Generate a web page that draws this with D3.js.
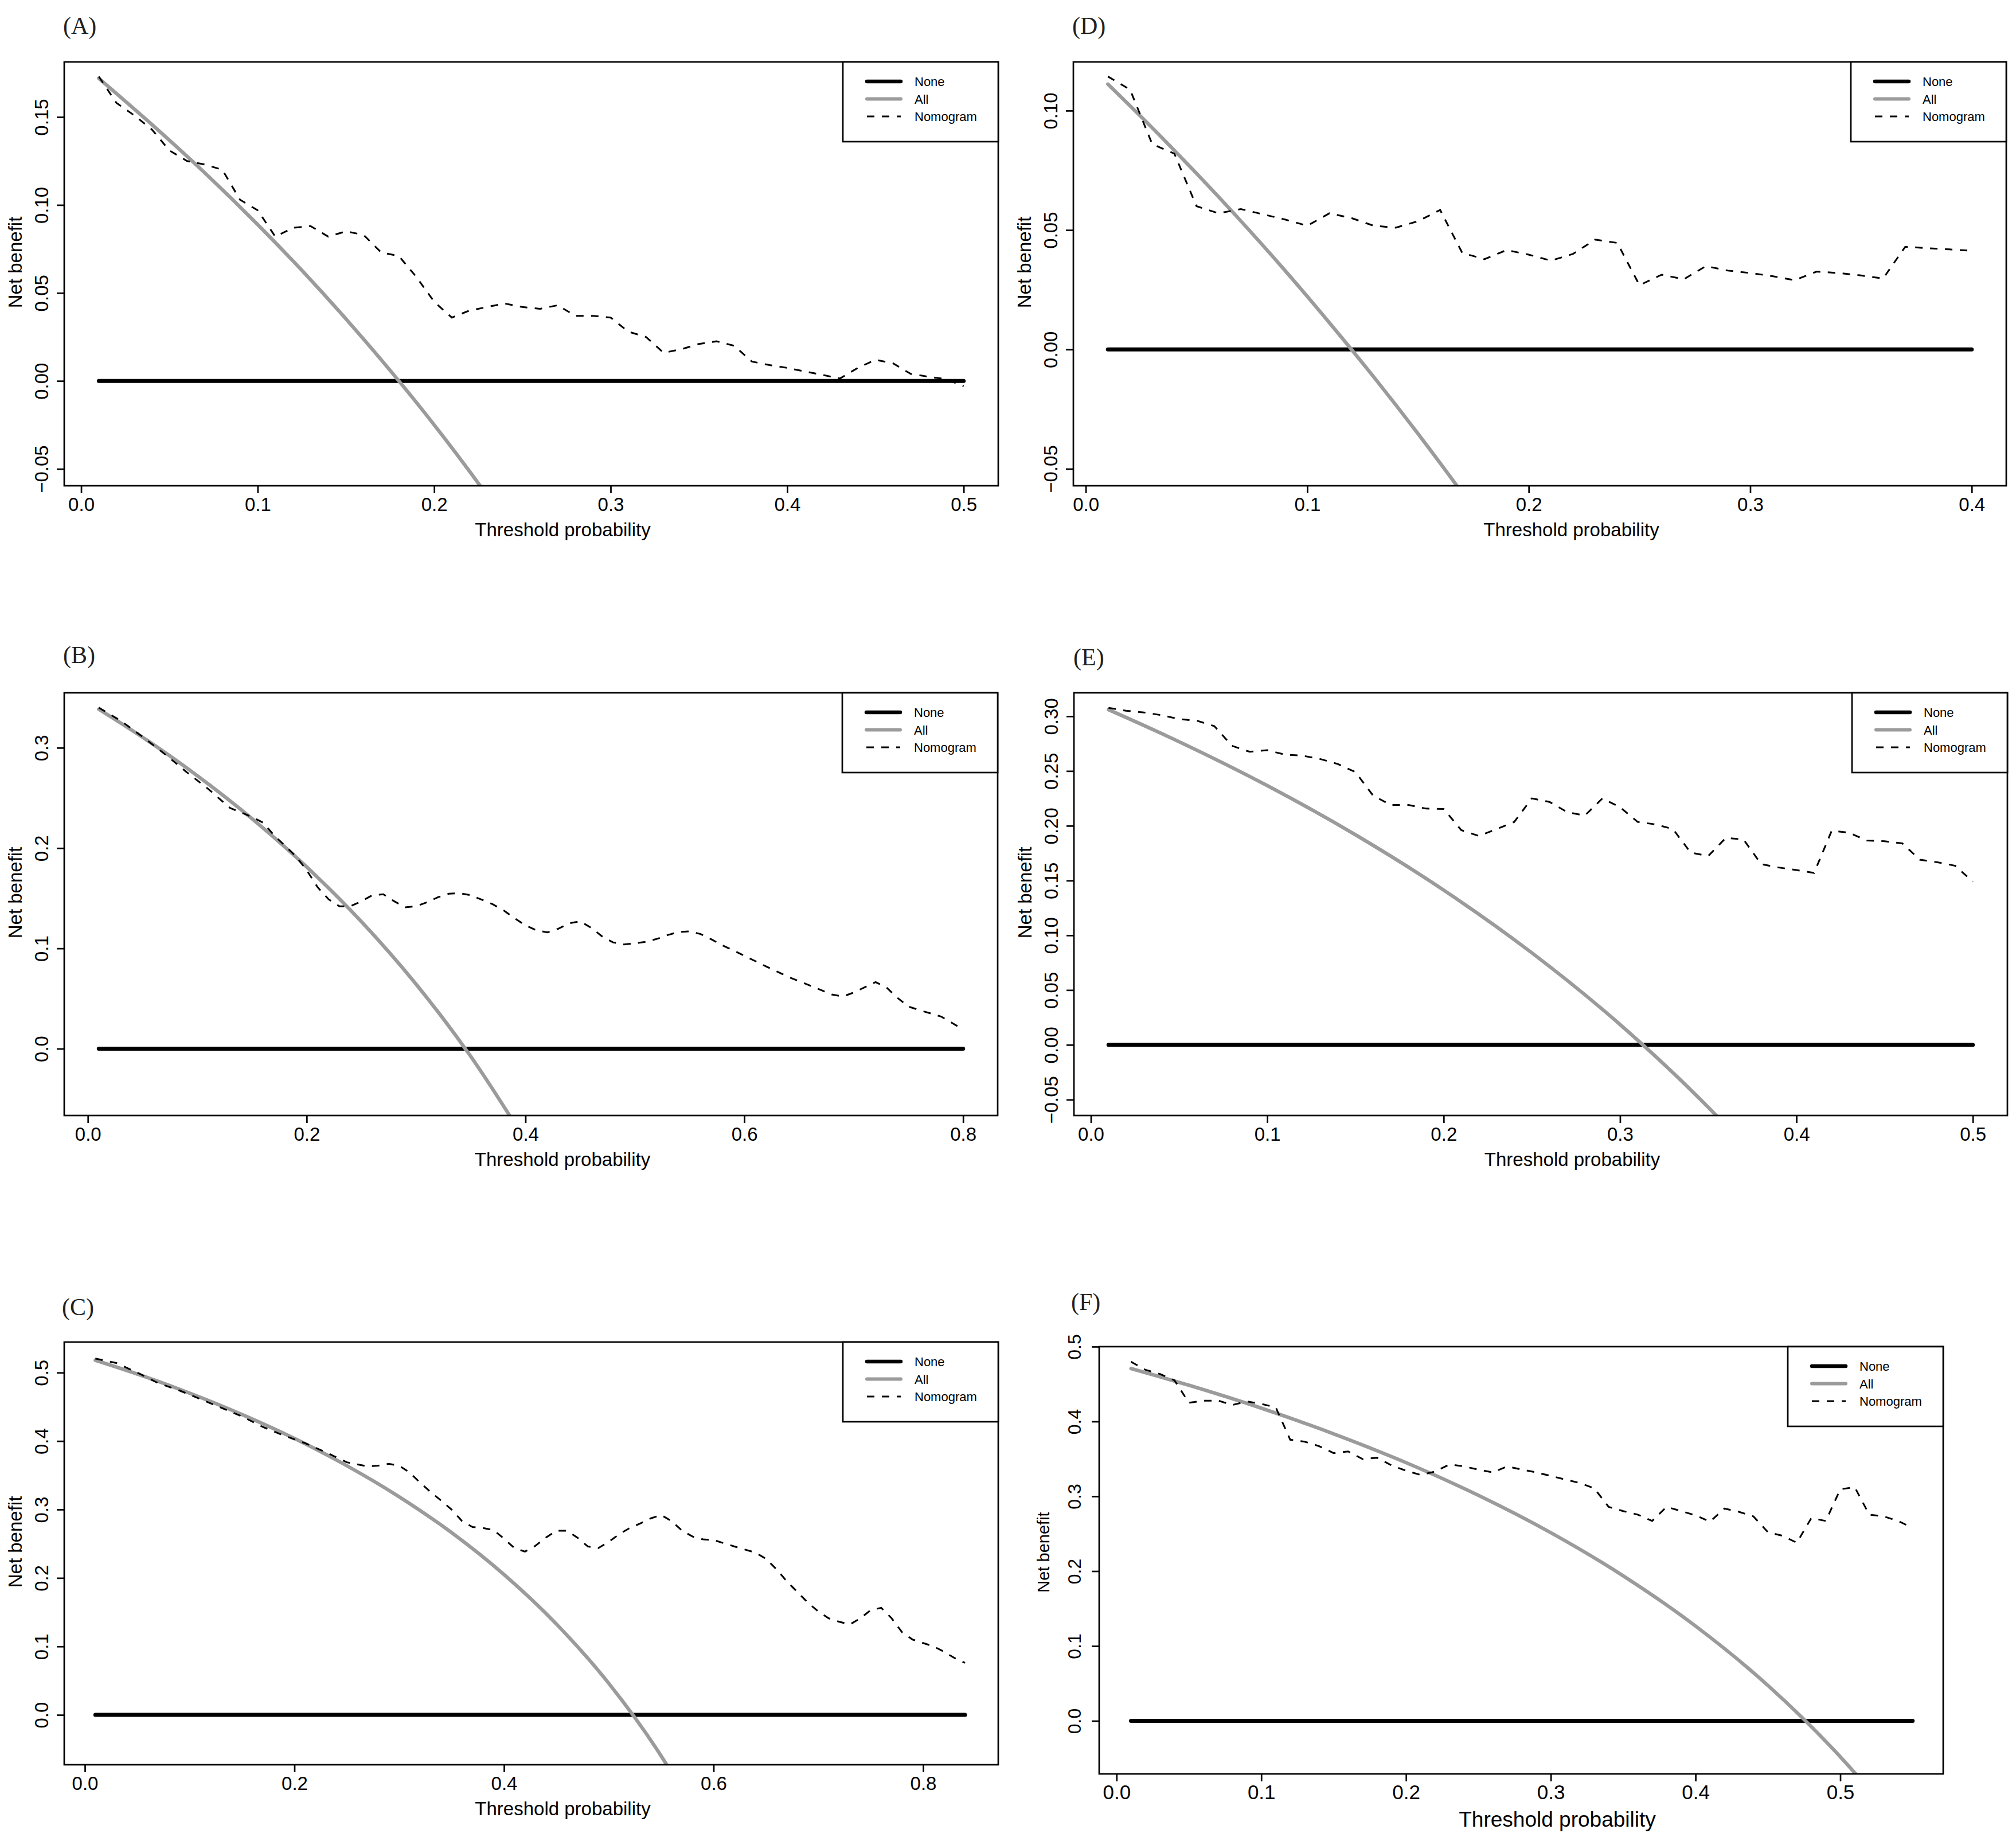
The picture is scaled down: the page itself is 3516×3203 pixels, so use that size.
<!DOCTYPE html>
<html>
<head>
<meta charset="utf-8">
<style>
  body { margin: 0; background: #fff; }
  svg text { font-family: "Liberation Sans", Arial, Helvetica, sans-serif; fill: #000; }
  svg .tag { font-family: "Liberation Serif", "Times New Roman", serif; fill: #231f20; }
</style>
</head>
<body>
<svg id="dca"></svg>
<script src="https://d3js.org/d3.v7.min.js"></script>
<script>
// values (net benefit by threshold probability)

// (A)
var xA = [0.01,0.02,0.03,0.04,0.05,0.06,0.07,0.08,0.09,0.10,0.11,0.12,0.13,0.14,0.15,0.16,0.17,0.18,0.19,0.20,
          0.21,0.22,0.23,0.24,0.25,0.26,0.27,0.28,0.29,0.30,0.31,0.32,0.33,0.34,0.35,0.36,0.37,0.38,0.39,0.40,
          0.41,0.42,0.43,0.44,0.45,0.46,0.47,0.48,0.49,0.50];
var nomA = [0.173,0.158,0.151,0.143,0.131,0.125,0.123,0.120,0.103,0.097,0.082,0.087,0.088,0.082,0.085,0.083,0.073,0.071,0.059,0.045,
            0.036,0.040,0.042,0.044,0.042,0.041,0.043,0.037,0.037,0.036,0.028,0.025,0.016,0.018,0.021,0.0225,0.020,0.011,0.009,0.0074,
            0.0054,0.0034,0.0014,0.0074,0.012,0.010,0.004,0.0024,0.001,-0.003];
var allXA = [0.01,0.04,0.07,0.10,0.13,0.16,0.19,0.22,0.25];
var allA = [0.172,0.1458,0.1183,0.0889,0.0575,0.0238,-0.0123,-0.0513,-0.0933];

// (D)
var xD = [0.01,0.02,0.03,0.04,0.05,0.06,0.07,0.08,0.09,0.10,0.11,0.12,0.13,0.14,0.15,0.16,0.17,0.18,0.19,0.20,
          0.21,0.22,0.23,0.24,0.25,0.26,0.27,0.28,0.29,0.30,0.31,0.32,0.33,0.34,0.35,0.36,0.37,0.38,0.39,0.40];
var nomD = [0.1143,0.1088,0.086,0.082,0.060,0.057,0.0588,0.0566,0.0544,0.0518,0.057,0.055,0.0518,0.051,0.0537,0.0584,0.0404,0.0378,0.0416,0.0397,
            0.0372,0.040,0.046,0.0446,0.0269,0.0313,0.0294,0.0349,0.033,0.032,0.0307,0.029,0.0326,0.032,0.031,0.0297,0.043,0.0424,0.0419,0.0413];
var allXD = [0.01,0.03,0.05,0.07,0.09,0.11,0.13,0.15,0.17,0.19];
var allD = [0.1111,0.0928,0.0737,0.0538,0.033,0.0112,-0.0115,-0.0353,-0.0602,-0.0864];

// (B)
var xB = [0.01,0.03,0.05,0.07,0.09,0.11,0.13,0.15,0.16,0.17,0.19,0.20,0.21,0.22,0.23,0.24,0.25,0.26,0.27,0.28,
          0.29,0.30,0.31,0.32,0.33,0.34,0.35,0.36,0.37,0.38,0.39,0.40,0.41,0.42,0.43,0.44,0.45,0.46,0.47,0.48,
          0.49,0.50,0.51,0.52,0.53,0.54,0.55,0.56,0.57,0.58,0.59,0.60,0.62,0.64,0.66,0.68,0.69,0.70,0.72,0.73,
          0.74,0.75,0.76,0.78,0.80];
var nomB = [0.340,0.327,0.311,0.294,0.276,0.259,0.240,0.231,0.2255,0.213,0.192,0.178,0.161,0.149,0.142,0.142,0.147,0.153,0.154,0.147,
            0.141,0.142,0.146,0.151,0.1545,0.155,0.153,0.1486,0.144,0.138,0.130,0.123,0.118,0.116,0.1196,0.125,0.127,0.1206,0.112,0.106,
            0.104,0.105,0.1066,0.1094,0.1133,0.1164,0.117,0.1143,0.109,0.103,0.098,0.0927,0.082,0.0717,0.063,0.054,0.052,0.056,0.0664,0.061,
            0.0507,0.042,0.0385,0.032,0.0192];
var allXB = [0.01,0.05,0.10,0.15,0.20,0.25,0.30,0.35,0.40];
var allB = [0.3384,0.3105,0.2722,0.2294,0.1812,0.1267,0.0643,-0.0077,-0.0917];

// (E)
var xE = xA.slice();
var nomE = [0.3077,0.305,0.3035,0.301,0.2974,0.296,0.291,0.273,0.2676,0.269,0.265,0.264,0.261,0.2564,0.249,0.2276,0.219,0.219,0.2157,0.2154,
            0.196,0.1907,0.197,0.2035,0.225,0.2218,0.2125,0.2093,0.225,0.217,0.2035,0.2013,0.197,0.1756,0.1724,0.189,0.1875,0.165,0.1619,0.1596,
            0.157,0.1955,0.1936,0.1865,0.1859,0.184,0.169,0.1667,0.1635,0.149];
var allXE = [0.01,0.05,0.10,0.15,0.20,0.25,0.30,0.35,0.40];
var allE = [0.306,0.2768,0.2367,0.1918,0.1413,0.084,0.0186,-0.057,-0.145];

// (C)
var xC = [0.01,0.03,0.05,0.07,0.09,0.11,0.13,0.15,0.17,0.19,0.21,0.23,0.25,0.27,0.28,0.29,0.30,0.31,0.32,0.33,
          0.34,0.35,0.36,0.37,0.38,0.39,0.40,0.41,0.42,0.43,0.44,0.45,0.46,0.47,0.48,0.49,0.50,0.51,0.52,0.53,
          0.54,0.55,0.56,0.57,0.58,0.59,0.60,0.62,0.64,0.65,0.66,0.67,0.68,0.69,0.70,0.71,0.72,0.73,0.74,0.75,
          0.76,0.77,0.78,0.79,0.80,0.81,0.82,0.83,0.84];
var nomC = [0.5205,0.514,0.500,0.4846,0.474,0.4615,0.4487,0.436,0.4205,0.408,0.397,0.3836,0.369,0.363,0.364,0.3667,0.364,0.354,0.339,0.3256,
            0.313,0.300,0.283,0.2744,0.273,0.270,0.2574,0.2436,0.2385,0.247,0.259,0.269,0.269,0.259,0.246,0.2436,0.2528,0.264,0.273,0.2795,
            0.287,0.292,0.283,0.269,0.2605,0.2564,0.2554,0.246,0.237,0.228,0.2128,0.195,0.1795,0.164,0.151,0.141,0.136,0.132,0.141,0.153,
            0.1564,0.141,0.1205,0.110,0.105,0.100,0.0923,0.083,0.076];
var allXC = [0.01,0.05,0.10,0.15,0.20,0.25,0.30,0.35,0.40,0.45,0.50,0.55,0.60];
var allC = [0.518,0.4979,0.470,0.4388,0.4038,0.364,0.3186,0.2662,0.205,0.1327,0.046,-0.060,-0.1925];

// (F)
var xF = [0.01,0.02,0.03,0.04,0.05,0.06,0.07,0.08,0.09,0.10,0.11,0.12,0.13,0.14,0.15,0.16,0.17,0.18,0.19,0.20,
          0.21,0.22,0.23,0.24,0.25,0.26,0.27,0.28,0.29,0.30,0.31,0.32,0.33,0.34,0.35,0.36,0.37,0.38,0.39,0.40,
          0.41,0.42,0.43,0.44,0.45,0.46,0.47,0.48,0.49,0.50,0.51,0.52,0.53,0.54,0.55];
var nomF = [0.4798,0.469,0.4634,0.455,0.425,0.4277,0.428,0.422,0.4268,0.4235,0.4188,0.3756,0.373,0.367,0.3577,0.36,0.3498,0.3516,0.3413,0.3343,
            0.3286,0.333,0.3427,0.340,0.3357,0.332,0.340,0.3357,0.332,0.3272,0.3225,0.3178,0.3108,0.2859,0.2803,0.2756,0.2671,0.2859,0.2803,0.2746,
            0.2662,0.2836,0.2793,0.2732,0.2521,0.2474,0.238,0.2709,0.2671,0.3094,0.3122,0.2756,0.2732,0.2671,0.2577];
var allXF = [0.01,0.05,0.10,0.15,0.20,0.25,0.30,0.35,0.40,0.45,0.50,0.52,0.55];
var allF = [0.4707,0.4484,0.4178,0.3835,0.345,0.3013,0.2514,0.1938,0.1267,0.0473,-0.048,-0.0917,-0.1644];

// tick values
var xTicks5 = [0, 0.1, 0.2, 0.3, 0.4, 0.5];
var xTicks4 = [0, 0.1, 0.2, 0.3, 0.4];
var xTicks8 = [0, 0.2, 0.4, 0.6, 0.8];
var yTicksA = [-0.05, 0, 0.05, 0.10, 0.15];
var yTicksD = [-0.05, 0, 0.05, 0.10];
var yTicksB = [0, 0.1, 0.2, 0.3];
var yTicksE = [-0.05, 0, 0.05, 0.10, 0.15, 0.20, 0.25, 0.30];
var yTicksC = [0, 0.1, 0.2, 0.3, 0.4, 0.5];

var legendLabels = ["None", "All", "Nomogram"];

// layout per panel (pixel boxes, scale domains, text settings)
var small = {tickFs: 33, xPad: 8, yLab: 28, xtFs: 33, xtBase: 88, xtOff: 55, ytFs: 33, ytBase: 74, ytOff: -20};
var panels = [
  {tag: "(A)", tagPos: [110, 59], box: [112, 108, 1741, 847], xdom: [-0.0096, 0.5196], ydom: [-0.0596, 0.1813],
   xt: xTicks5, yt: yTicksA, yfmt: ".2f", x: xA, nom: nomA, allX: allXA, all: allA, t: small},
  {tag: "(D)", tagPos: [1870, 59], box: [1872, 108, 3499, 847], xdom: [-0.0056, 0.4156], ydom: [-0.0571, 0.1204],
   xt: xTicks4, yt: yTicksD, yfmt: ".2f", x: xD, nom: nomD, allX: allXD, all: allD, t: small},
  {tag: "(B)", tagPos: [110, 1156], box: [112, 1208, 1740, 1945], xdom: [-0.0216, 0.8316], ydom: [-0.0666, 0.3548],
   xt: xTicks8, yt: yTicksB, yfmt: ".1f", x: xB, nom: nomB, allX: allXB, all: allB, t: small},
  {tag: "(E)", tagPos: [1872, 1160], box: [1873, 1208, 3501, 1945], xdom: [-0.0096, 0.5196], ydom: [-0.0645, 0.3214],
   xt: xTicks5, yt: yTicksE, yfmt: ".2f", x: xE, nom: nomE, allX: allXE, all: allE, t: small},
  {tag: "(C)", tagPos: [108, 2293], box: [112, 2340, 1741, 3077], xdom: [-0.0197, 0.8717], ydom: [-0.0728, 0.5446],
   xt: xTicks8, yt: yTicksC, yfmt: ".1f", x: xC, nom: nomC, allX: allXC, all: allC, t: small},
  {tag: "(F)", tagPos: [1868, 2284], box: [1917, 2348, 3389, 3093], xdom: [-0.012, 0.5711], ydom: [-0.0709, 0.50],
   xt: xTicks5, yt: yTicksC, yfmt: ".1f", x: xF, nom: nomF, allX: allXF, all: allF,
   t: {tickFs: 35, yTickFs: 32, xPad: 6, yLab: 32, xtFs: 37, xtBase: 92, xtOff: 63, ytFs: 29, ytBase: 87, ytOff: -14}}
];

var W = 3516, H = 3203;
var svg = d3.select("#dca").attr("width", W).attr("height", H);
svg.append("rect").attr("width", W).attr("height", H).attr("fill", "#fff");

var GREY = "#9b9b9b";
var frameW = 2.7;

function drawPanel(p, i) {
  var x0 = p.box[0], y0 = p.box[1], x1 = p.box[2], y1 = p.box[3];
  var t = p.t;
  var x = d3.scaleLinear().domain(p.xdom).range([x0, x1]);
  var y = d3.scaleLinear().domain(p.ydom).range([y1, y0]);

  var g = svg.append("g");
  var clipId = "clip" + i;
  svg.append("clipPath").attr("id", clipId)
    .append("rect").attr("x", x0).attr("y", y0).attr("width", x1 - x0).attr("height", y1 - y0);

  var plot = g.append("g").attr("clip-path", "url(#" + clipId + ")");
  var line = d3.line().x(function(d) { return x(d[0]); }).y(function(d) { return y(d[1]); });
  var smooth = d3.line().curve(d3.curveMonotoneX).x(function(d) { return x(d[0]); }).y(function(d) { return y(d[1]); });

  // None: treat nobody -> zero net benefit across the threshold range
  var first = p.x[0], last = p.x[p.x.length - 1];
  plot.append("path").datum([[first, 0], [last, 0]])
    .attr("d", line).attr("fill", "none").attr("stroke", "#000")
    .attr("stroke-width", 7).attr("stroke-linecap", "round");

  // All
  plot.append("path").datum(p.allX.map(function(v, k) { return [v, p.all[k]]; }))
    .attr("d", smooth).attr("fill", "none").attr("stroke", GREY)
    .attr("stroke-width", 6.2).attr("stroke-linecap", "round");

  // Nomogram
  plot.append("path").datum(p.x.map(function(v, k) { return [v, p.nom[k]]; }))
    .attr("d", line).attr("fill", "none").attr("stroke", "#000")
    .attr("stroke-width", 3).attr("stroke-dasharray", "13,13");

  // frame
  g.append("rect").attr("x", x0).attr("y", y0).attr("width", x1 - x0).attr("height", y1 - y0)
    .attr("fill", "none").attr("stroke", "#000").attr("stroke-width", frameW);

  // x axis
  var xa = g.append("g").attr("transform", "translate(0," + y1 + ")")
    .call(d3.axisBottom(x).tickValues(p.xt).tickFormat(d3.format(".1f"))
      .tickSize(13).tickSizeOuter(0).tickPadding(t.xPad));
  xa.attr("font-family", null).attr("font-size", null);
  xa.select(".domain").remove();
  xa.selectAll(".tick line").attr("stroke", "#000").attr("stroke-width", frameW);
  xa.selectAll(".tick text").attr("font-size", t.tickFs).attr("fill", "#000");

  // y axis, labels parallel to the axis
  var ya = g.append("g").attr("transform", "translate(" + x0 + ",0)")
    .call(d3.axisLeft(y).tickValues(p.yt).tickFormat(d3.format(p.yfmt))
      .tickSize(13).tickSizeOuter(0));
  ya.attr("font-family", null).attr("font-size", null);
  ya.select(".domain").remove();
  ya.selectAll(".tick line").attr("stroke", "#000").attr("stroke-width", frameW);
  ya.selectAll(".tick text")
    .attr("x", 0).attr("dy", 0).attr("text-anchor", "middle")
    .attr("transform", "translate(" + (-t.yLab) + ",0) rotate(-90)")
    .attr("font-size", t.yTickFs || t.tickFs).attr("fill", "#000");

  // axis titles
  g.append("text")
    .attr("x", (x0 + x1) / 2 + t.xtOff).attr("y", y1 + t.xtBase)
    .attr("text-anchor", "middle").attr("font-size", t.xtFs)
    .text("Threshold probability");
  g.append("text")
    .attr("transform", "translate(" + (x0 - t.ytBase) + "," + ((y0 + y1) / 2 + t.ytOff) + ") rotate(-90)")
    .attr("text-anchor", "middle").attr("font-size", t.ytFs)
    .text("Net benefit");

  // legend, top right corner of the plot box
  var lw = 271, lh = 139;
  var lg = g.append("g").attr("transform", "translate(" + (x1 - lw) + "," + y0 + ")");
  lg.append("rect").attr("width", lw).attr("height", lh)
    .attr("fill", "#fff").attr("stroke", "#000").attr("stroke-width", frameW);
  var rowY = d3.scalePoint().domain(legendLabels).range([34, 95]);
  var styles = {
    "None": {c: "#000", w: 6.5, dash: null},
    "All": {c: GREY, w: 6, dash: null},
    "Nomogram": {c: "#000", w: 3, dash: "13,13"}
  };
  legendLabels.forEach(function(lab) {
    var s = styles[lab];
    lg.append("line").attr("x1", 42).attr("x2", 101)
      .attr("y1", rowY(lab)).attr("y2", rowY(lab))
      .attr("stroke", s.c).attr("stroke-width", s.w)
      .attr("stroke-linecap", s.dash ? "butt" : "round")
      .attr("stroke-dasharray", s.dash);
    lg.append("text").attr("x", 125).attr("y", rowY(lab) + 8)
      .attr("font-size", 22).text(lab);
  });

  // panel tag
  svg.append("text").attr("class", "tag")
    .attr("x", p.tagPos[0]).attr("y", p.tagPos[1])
    .attr("font-size", 42).text(p.tag);
}

panels.forEach(drawPanel);
</script>
</body>
</html>
